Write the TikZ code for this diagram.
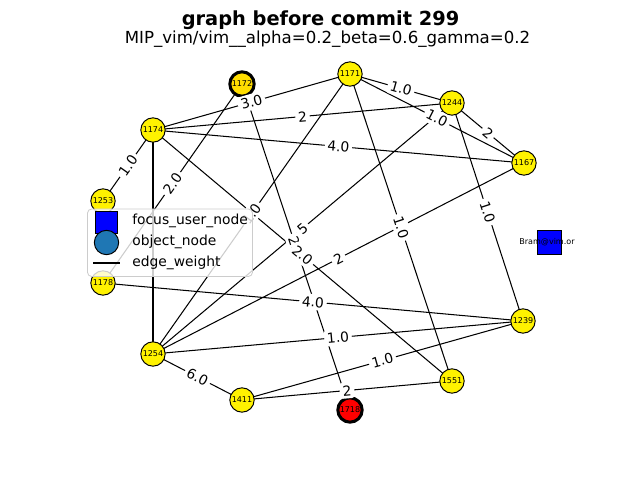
\documentclass[tikz,border=0pt]{standalone}
\usepackage{fontspec}
\setmainfont{DejaVu Sans}
\definecolor{tabblue}{RGB}{31,119,180}
\definecolor{goldnode}{RGB}{255,221,0}
\begin{document}
\begin{tikzpicture}[x=0.01in,y=-0.01in,
  vnode/.style={circle,draw=black,fill=yellow,line width=0.72pt,minimum size=17.6pt,inner sep=0pt,font=\fontsize{5.8}{6}\selectfont},
  hnode/.style={vnode,line width=2.2pt},
  edgeline/.style={line width=0.75pt,black},
  lbl/.style={sloped,fill=white,rounded corners=2pt,inner sep=2pt,font=\fontsize{10}{10}\selectfont}]
\useasboundingbox (0,0) rectangle (640,480);
% titles
\node[anchor=base,font=\bfseries\fontsize{14}{14}\selectfont] (title) at (320.5,26) {graph before commit 299};
\node[anchor=base,font=\fontsize{12}{12}\selectfont] (subtitle) at (327.5,44) {MIP\_vim/vim\_\_alpha=0.2\_beta=0.6\_gamma=0.2};
% node coordinates
\coordinate (p1171) at (350,74);
\coordinate (p1172) at (242,84);
\coordinate (p1244) at (452,103);
\coordinate (p1174) at (153,130);
\coordinate (p1167) at (524,163);
\coordinate (p1253) at (103,201);
\coordinate (p1178) at (103,283);
\coordinate (p1239) at (523,321);
\coordinate (p1254) at (153,354);
\coordinate (p1411) at (242,400);
\coordinate (p1551) at (452,381);
\coordinate (p1718) at (350,410);
% edges
\foreach \a/\b in {1174/1171,1174/1244,1174/1167,1174/1253,1174/1254,1174/1551,1172/1718,1172/1178,1171/1244,1171/1167,1171/1551,1171/1254,1244/1167,1244/1239,1244/1254,1167/1254,1254/1239,1254/1411,1178/1239,1411/1239,1411/1551}
  \draw[edgeline] (p\a) -- (p\b);
% nodes
\node[vnode] (n1171) at (p1171) {1171};
\node[hnode,fill=goldnode] (n1172) at (p1172) {1172};
\node[vnode] (n1244) at (p1244) {1244};
\node[vnode] (n1174) at (p1174) {1174};
\node[vnode] (n1167) at (p1167) {1167};
\node[vnode] (n1253) at (p1253) {1253};
\node[vnode] (n1178) at (p1178) {1178};
\node[vnode] (n1239) at (p1239) {1239};
\node[vnode] (n1254) at (p1254) {1254};
\node[vnode] (n1411) at (p1411) {1411};
\node[vnode] (n1551) at (p1551) {1551};
\node[hnode,fill=red] (n1718) at (p1718) {1718};
\node[rectangle,draw=black,fill=blue,line width=0.72pt,minimum size=17.6pt,inner sep=0pt] (bram) at (549.5,242.5) {};
\node[font=\fontsize{5.8}{6}\selectfont,inner sep=0pt] (bramlbl) at (547,242) {Bram@vim.or};
% edge labels
\path (p1172) -- node[lbl] (l7) {2.0} (p1718);
\path (p1174) -- node[lbl] (l1) {3.0} (p1171);
\path (p1174) -- node[lbl] (l2) {2} (p1244);
\path (p1174) -- node[lbl] (l3) {4.0} (p1167);
\path (p1174) -- node[lbl] (l4) {1.0} (p1253);
\path (p1244) -- node[lbl] (l15) {5} (p1254);
\path (p1174) -- node[lbl] (l6) {2.0} (p1551);
\path (p1172) -- node[lbl] (l8) {2.0} (p1178);
\path (p1171) -- node[lbl] (l9) {1.0} (p1244);
\path (p1171) -- node[lbl] (l10) {1.0} (p1167);
\path (p1171) -- node[lbl] (l11) {1.0} (p1551);
\path (p1171) -- node[lbl] (l12) {1.0} (p1254);
\path (p1244) -- node[lbl] (l13) {2} (p1167);
\path (p1244) -- node[lbl] (l14) {1.0} (p1239);
\path (p1167) -- node[lbl] (l16) {2} (p1254);
\path (p1254) -- node[lbl] (l17) {1.0} (p1239);
\path (p1254) -- node[lbl] (l18) {6.0} (p1411);
\path (p1178) -- node[lbl] (l19) {4.0} (p1239);
\path (p1411) -- node[lbl] (l20) {1.0} (p1239);
\path (p1411) -- node[lbl] (l21) {2} (p1551);
% legend
\draw[rounded corners=3pt,draw=black!20,fill=white,fill opacity=0.8,line width=0.6pt] (87.5,209) rectangle (252.5,276.5);
\node[rectangle,draw=black,fill=blue,line width=0.72pt,minimum size=16.5pt,inner sep=0pt] (legsq) at (106.5,222.5) {};
\node[circle,draw=black,fill=tabblue,line width=0.72pt,minimum size=17.6pt,inner sep=0pt] (legci) at (106.5,242.5) {};
\coordinate (legl1) at (93,263);
\coordinate (legl2) at (120,263);
\draw[edgeline] (legl1) -- (legl2);
\node[anchor=mid west,inner sep=0pt,font=\fontsize{10}{10}\selectfont] (legt1) at (132,221) {focus\_user\_node};
\node[anchor=mid west,inner sep=0pt,font=\fontsize{10}{10}\selectfont] (legt2) at (132,242) {object\_node};
\node[anchor=mid west,inner sep=0pt,font=\fontsize{10}{10}\selectfont] (legt3) at (132,263) {edge\_weight};
\end{tikzpicture}
\end{document}
